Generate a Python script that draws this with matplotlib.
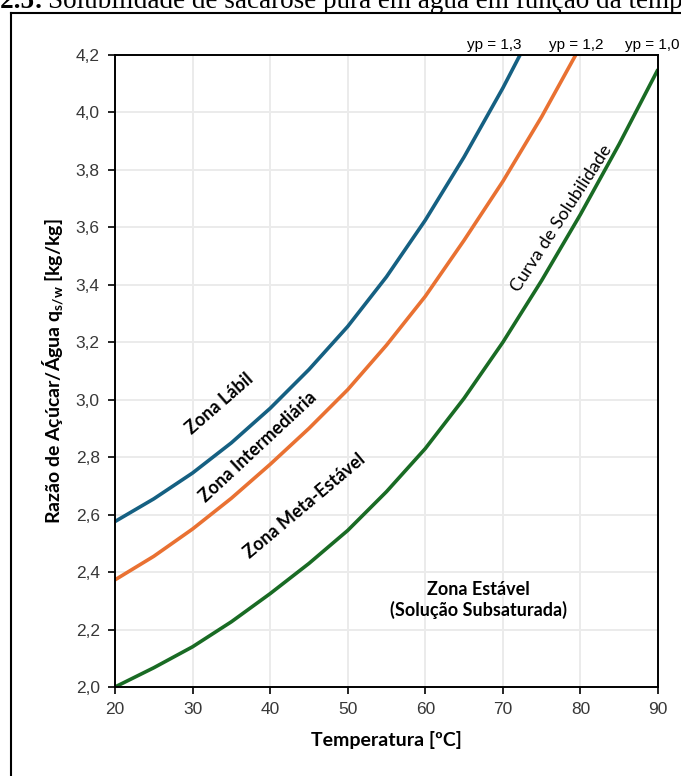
import numpy as np
import matplotlib.pyplot as plt
from matplotlib.lines import Line2D

# temperatura [C] e razao acucar/agua [kg/kg]
temp = [20, 25, 30, 35, 40, 45, 50, 55, 60, 65, 70, 75, 80, 85, 90]
q_sat = [2.000, 2.067, 2.140, 2.227, 2.325, 2.430, 2.545, 2.680, 2.830, 3.005, 3.200, 3.415, 3.645, 3.890, 4.150]
q_12 = [2.373, 2.455, 2.550, 2.657, 2.775, 2.900, 3.035, 3.190, 3.360, 3.555, 3.760, 3.985, 4.230]
q_13 = [2.576, 2.655, 2.745, 2.850, 2.970, 3.105, 3.255, 3.428, 3.625, 3.845, 4.085, 4.345]

xticks = [20, 30, 40, 50, 60, 70, 80, 90]
yticks = [2.0, 2.2, 2.4, 2.6, 2.8, 3.0, 3.2, 3.4, 3.6, 3.8, 4.0, 4.2]
curve_names = ['yp = 1,3', 'yp = 1,2', 'yp = 1,0']

W, H = 681, 776
fig = plt.figure(figsize=(W / 100, H / 100), dpi=100)
plt.rcParams['mathtext.fontset'] = 'custom'
plt.rcParams['mathtext.rm'] = 'Lato'

ax = fig.add_axes([115 / W, 1 - 687 / H, 543 / W, 632 / H])
ax.plot(temp[:len(q_13)], q_13, color='#156082', lw=2.6, solid_capstyle='butt', solid_joinstyle='round')
ax.plot(temp[:len(q_12)], q_12, color='#E97132', lw=2.6, solid_capstyle='butt', solid_joinstyle='round')
ax.plot(temp, q_sat, color='#196B24', lw=2.6, solid_capstyle='butt', solid_joinstyle='round')

ax.set_xlim(20, 90)
ax.set_ylim(2.0, 4.2)
ax.set_xticks(xticks)
ax.set_yticks(yticks)
ax.set_xticklabels([str(t) for t in xticks], family='Liberation Sans', fontsize=12.5, color='#383838')
ax.set_yticklabels([f'{v:.1f}'.replace('.', ',') for v in yticks], family='Liberation Sans', fontsize=12.5, color='#383838')
ax.tick_params(length=5, width=1.2, color='black', pad=6)
ax.grid(color='#ebebeb', lw=1.4)
ax.set_axisbelow(True)
for s in ax.spines.values():
    s.set_linewidth(1.4)

ax.set_xlabel('Temperatura [ºC]', family='Lato', fontweight='bold', fontsize=14, labelpad=10)
ax.set_ylabel('Razão de Açúcar/Água q$_{\\mathregular{s/w}}$ [kg/kg]', family='Lato',
              fontweight='bold', fontsize=14, labelpad=7)

# rotulos das curvas acima do eixo
for name, xp in zip(curve_names, [494, 576, 652]):
    fig.text(xp / W, 1 - 45 / H, name, ha='center', va='center',
             family='Liberation Sans', fontsize=11, color='black')

zone_kw = dict(family='Lato', fontweight='bold', fontsize=13, ha='center', va='center')
fig.text(220 / W, 1 - 404 / H, 'Zona Lábil', rotation=41, **zone_kw)
fig.text(258 / W, 1 - 447 / H, 'Zona Intermediária', rotation=43, **zone_kw)
fig.text(305 / W, 1 - 506 / H, 'Zona Meta-Estável', rotation=40, **zone_kw)
fig.text(478 / W, 1 - 600 / H, 'Zona Estável\n(Solução Subsaturada)', linespacing=1.25, **zone_kw)
fig.text(562 / W, 1 - 218 / H, 'Curva de Solubilidade', rotation=57, ha='center', va='center',
         family='Lato', fontsize=13)

# legenda da figura (cortada no topo) e moldura
fig.text(43 / W, 1 - 8.5 / H, 'Figura 2.5:', ha='right', va='baseline',
         family='Liberation Serif', fontweight='bold', fontsize=19.5)
fig.text(48 / W, 1 - 8.5 / H, 'Solubilidade de sacarose pura em água em função da temperatura',
         ha='left', va='baseline', family='Liberation Serif', fontsize=19.5)
fig.add_artist(Line2D([11 / W, 1.02], [1 - 13 / H, 1 - 13 / H], color='black', lw=1.5))
fig.add_artist(Line2D([11 / W, 11 / W], [1 - 13 / H, -0.02], color='black', lw=1.5))

fig.savefig('out.png', dpi=100)
